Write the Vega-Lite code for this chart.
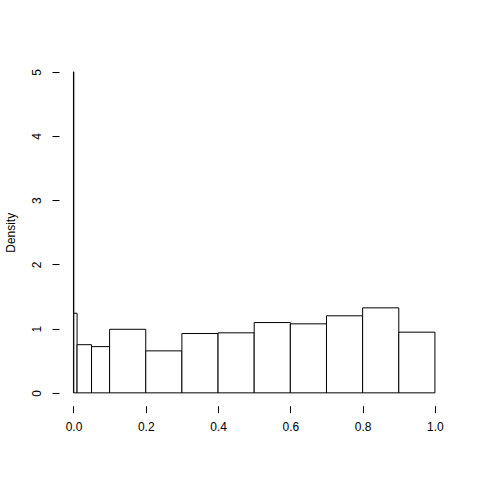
{
  "$schema": "https://vega.github.io/schema/vega-lite/v6.json",
  "autosize": {"type": "none"},
  "padding": {"left": 59, "top": 59, "right": 30, "bottom": 74},
  "width": 390.4,
  "height": 346.7,
  "background": "white",
  "config": {
    "view": {"stroke": null},
    "font": "Liberation Sans",
    "axis": {"grid": false, "domain": false, "tickColor": "black", "tickSize": 7, "labelColor": "black", "labelFontSize": 12, "labelFont": "Liberation Sans", "titleFont": "Liberation Sans", "titleFontSize": 12, "titleFontWeight": "normal", "titleColor": "black"}
  },
  "datasets": {
    "bins": [
      {"lo": 0.0, "hi": 0.001, "density": 5.0},
      {"lo": 0.001, "hi": 0.01, "density": 1.24},
      {"lo": 0.01, "hi": 0.05, "density": 0.75},
      {"lo": 0.05, "hi": 0.1, "density": 0.72},
      {"lo": 0.1, "hi": 0.2, "density": 0.99},
      {"lo": 0.2, "hi": 0.3, "density": 0.654},
      {"lo": 0.3, "hi": 0.4, "density": 0.924},
      {"lo": 0.4, "hi": 0.5, "density": 0.935},
      {"lo": 0.5, "hi": 0.6, "density": 1.095},
      {"lo": 0.6, "hi": 0.7, "density": 1.075},
      {"lo": 0.7, "hi": 0.8, "density": 1.2},
      {"lo": 0.8, "hi": 0.9, "density": 1.324},
      {"lo": 0.9, "hi": 1.0, "density": 0.945}
    ]
  },
  "layer": [
    {
      "data": {"name": "bins"},
      "mark": {"type": "rect", "fill": "white", "stroke": "black", "strokeWidth": 1},
      "encoding": {
        "x": {"field": "lo", "type": "quantitative", "scale": {"domain": [-0.04, 1.04], "nice": false, "zero": false},
              "axis": {"title": null, "values": [0, 0.2, 0.4, 0.6, 0.8, 1.0], "format": ".1f", "labelPadding": 9, "labelFlush": false, "labelBaseline": "top"}},
        "x2": {"field": "hi"},
        "y": {"field": "density", "type": "quantitative", "scale": {"domain": [-0.2, 5.2], "nice": false, "zero": false},
              "axis": {"title": "Density", "values": [0, 1, 2, 3, 4, 5], "format": "d", "labelAngle": 270, "labelAlign": "center", "labelBaseline": "bottom", "labelPadding": 9, "labelFlush": false,
                       "titleAngle": 270, "titleAlign": "center", "titleBaseline": "middle", "titleX": -49, "titleY": 173.3}},
        "y2": {"datum": 0}
      }
    },
    {
      "mark": {"type": "rule", "color": "black", "strokeWidth": 1},
      "encoding": {"x": {"datum": 0}, "x2": {"datum": 1}, "y": {"datum": -0.2}}
    },
    {
      "mark": {"type": "rule", "color": "black", "strokeWidth": 1},
      "encoding": {"x": {"datum": -0.04}, "y": {"datum": 0}, "y2": {"datum": 5}}
    }
  ]
}
